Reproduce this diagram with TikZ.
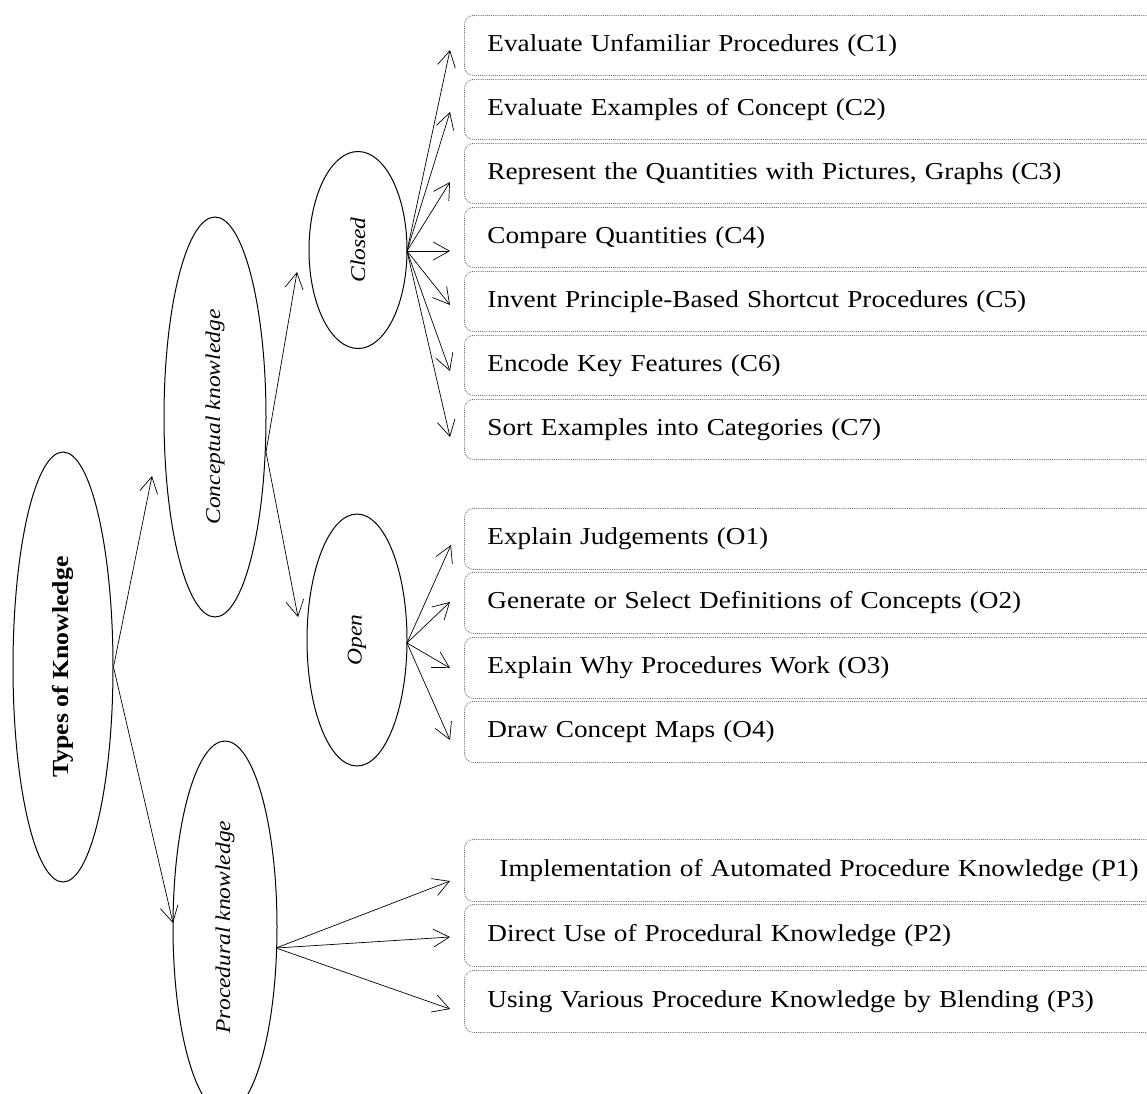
\documentclass[tikz,border=0pt]{standalone}
\usepackage{fontspec}
\setmainfont{Liberation Serif}[FakeStretch=1.12]
\usetikzlibrary{shapes.geometric,arrows.meta}
\begin{document}
\begin{tikzpicture}[x=1pt,y=-1pt,
  ell/.style={draw, ellipse, line width=1pt, inner sep=0pt, rotate=90, font=\itshape\fontsize{21}{26}\selectfont},
  itembox/.style={draw=black!55, densely dotted, line width=0.9pt, rounded corners=9pt, anchor=north west, text width=720pt, inner xsep=23pt, align=left, font=\fontsize{24.3}{28}\selectfont},
  conn/.style={-{Straight Barb[length=16pt,width=18pt]}, line width=0.7pt}
]
\useasboundingbox (0,0) rectangle (1147,1093);
\clip (0,0) rectangle (1147,1093);

% ellipses
\node[ell, minimum width=430pt, minimum height=100pt, font=\bfseries\fontsize{23}{28}\selectfont] (types) at (63,667) {Types of Knowledge};
\node[ell, minimum width=400pt, minimum height=102pt] (conc) at (215,417) {Conceptual knowledge};
\node[ell, minimum width=372pt, minimum height=104pt] (proc) at (225,927) {Procedural knowledge};
\node[ell, minimum width=197pt, minimum height=98pt] (closed) at (358,250) {Closed};
\node[ell, minimum width=252pt, minimum height=100pt] (open) at (357,640) {Open};

% boxes
\node[itembox, minimum height=60pt] (c1) at (464,15) {Evaluate Unfamiliar Procedures (C1)};
\node[itembox, minimum height=60pt] (c2) at (464,79) {Evaluate Examples of Concept (C2)};
\node[itembox, minimum height=60pt] (c3) at (464,143) {Represent the Quantities with Pictures, Graphs (C3)};
\node[itembox, minimum height=60pt] (c4) at (464,207) {Compare Quantities (C4)};
\node[itembox, minimum height=60pt] (c5) at (464,271) {Invent Principle-Based Shortcut Procedures (C5)};
\node[itembox, minimum height=60pt] (c6) at (464,335) {Encode Key Features (C6)};
\node[itembox, minimum height=60pt] (c7) at (464,399) {Sort Examples into Categories (C7)};

\node[itembox, minimum height=61pt] (o1) at (464,508) {Explain Judgements (O1)};
\node[itembox, minimum height=61pt] (o2) at (464,572) {Generate or Select Definitions of Concepts (O2)};
\node[itembox, minimum height=61pt] (o3) at (464,637) {Explain Why Procedures Work (O3)};
\node[itembox, minimum height=61pt] (o4) at (464,701) {Draw Concept Maps (O4)};

\node[itembox, minimum height=62pt] (p1) at (464,839) {\hspace*{12pt}Implementation of Automated Procedure Knowledge (P1)};
\node[itembox, minimum height=62pt] (p2) at (464,904) {Direct Use of Procedural Knowledge (P2)};
\node[itembox, minimum height=62pt] (p3) at (464,970) {Using Various Procedure Knowledge by Blending (P3)};

% connector end points
\coordinate (ctail) at (266,452);
\coordinate (pfan) at (276,948);
\coordinate (tc) at (152,476);
\coordinate (tp) at (173,923);
\coordinate (tcl) at (297,272);
\coordinate (top) at (298,617);
\coordinate (a1) at (450,50);
\coordinate (a2) at (450,112);
\coordinate (a3) at (450,182);
\coordinate (a4) at (450,251);
\coordinate (a5) at (450,305);
\coordinate (a6) at (450,371);
\coordinate (a7) at (450,437);
\coordinate (b1) at (451,545);
\coordinate (b2) at (450,602);
\coordinate (b3) at (450,668);
\coordinate (b4) at (450,740);
\coordinate (d1) at (450,881);
\coordinate (d2) at (450,937);
\coordinate (d3) at (450,1009);
\coordinate (cfan) at (407,251);
\coordinate (ofan) at (407,643);

% connectors
\draw[conn] (types.south) -- (tc);
\draw[conn] (types.south) -- (tp);
\draw[conn] (ctail) -- (tcl);
\draw[conn] (ctail) -- (top);
\foreach \t in {a1,a2,a3,a4,a5,a6,a7} \draw[conn] (cfan) -- (\t);
\foreach \t in {b1,b2,b3,b4} \draw[conn] (ofan) -- (\t);
\foreach \t in {d1,d2,d3} \draw[conn] (pfan) -- (\t);
\end{tikzpicture}
\end{document}
